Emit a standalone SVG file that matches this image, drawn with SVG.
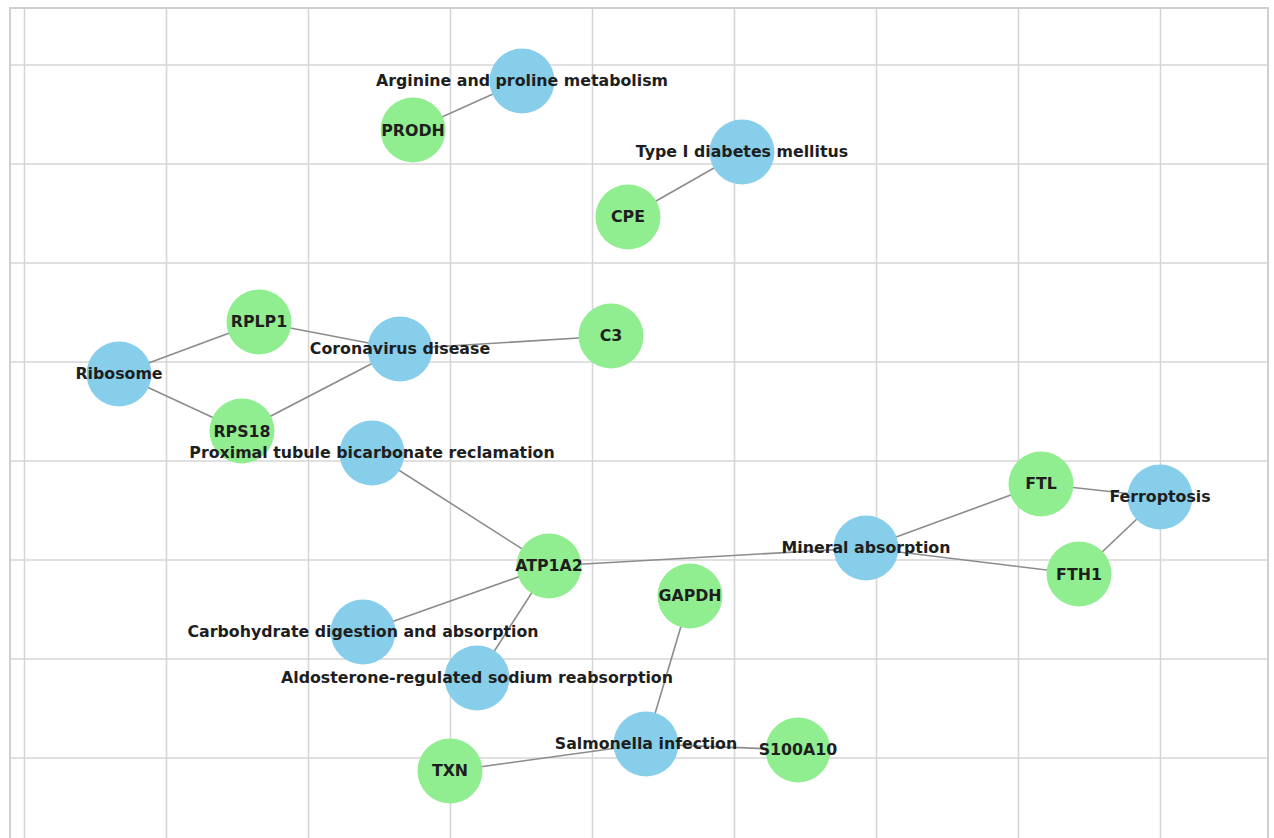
<svg xmlns="http://www.w3.org/2000/svg" width="1274" height="838" viewBox="0 0 1274 838">
<style>
.grid line{stroke:#d6d6d6;stroke-width:1.6}
.frame{fill:none;stroke:#d0d0d0;stroke-width:2}
.edges line{stroke:#8c8c8c;stroke-width:1.6}
.p{fill:#87CEEB}
.g{fill:#90EE90}
text{font-family:"DejaVu Sans",sans-serif;font-weight:bold;font-size:15.8px;fill:#1e1e1e;text-anchor:middle}
</style>
<rect width="1274" height="838" fill="#ffffff"/>
<g class="grid">
<line x1="24.5" y1="8" x2="24.5" y2="838"/>
<line x1="166.5" y1="8" x2="166.5" y2="838"/>
<line x1="308.5" y1="8" x2="308.5" y2="838"/>
<line x1="450.5" y1="8" x2="450.5" y2="838"/>
<line x1="592.5" y1="8" x2="592.5" y2="838"/>
<line x1="734.5" y1="8" x2="734.5" y2="838"/>
<line x1="876.5" y1="8" x2="876.5" y2="838"/>
<line x1="1018.5" y1="8" x2="1018.5" y2="838"/>
<line x1="1160.5" y1="8" x2="1160.5" y2="838"/>
<line x1="10" y1="65" x2="1268" y2="65"/>
<line x1="10" y1="164" x2="1268" y2="164"/>
<line x1="10" y1="263" x2="1268" y2="263"/>
<line x1="10" y1="362" x2="1268" y2="362"/>
<line x1="10" y1="461" x2="1268" y2="461"/>
<line x1="10" y1="560" x2="1268" y2="560"/>
<line x1="10" y1="659" x2="1268" y2="659"/>
<line x1="10" y1="758" x2="1268" y2="758"/>
</g>
<path class="frame" d="M10,840 V8 H1268 V840"/>
<g class="edges">
<line x1="413" y1="130" x2="522" y2="81"/>
<line x1="628" y1="217" x2="742" y2="152"/>
<line x1="119" y1="374" x2="259" y2="322"/>
<line x1="119" y1="374" x2="242" y2="431"/>
<line x1="259" y1="322" x2="400" y2="349"/>
<line x1="242" y1="431" x2="400" y2="349"/>
<line x1="400" y1="349" x2="611" y2="336"/>
<line x1="372" y1="453" x2="549" y2="566"/>
<line x1="549" y1="566" x2="866" y2="548"/>
<line x1="549" y1="566" x2="363" y2="632"/>
<line x1="549" y1="566" x2="477" y2="678"/>
<line x1="866" y1="548" x2="1041" y2="484"/>
<line x1="866" y1="548" x2="1079" y2="574"/>
<line x1="1041" y1="484" x2="1160" y2="497"/>
<line x1="1079" y1="574" x2="1160" y2="497"/>
<line x1="690" y1="596" x2="646" y2="744"/>
<line x1="450" y1="771" x2="646" y2="744"/>
<line x1="646" y1="744" x2="798" y2="750"/>
</g>
<g id="arginine"><circle class="p" cx="522" cy="81" r="32.5"/></g>
<g id="prodh"><circle class="g" cx="413" cy="130" r="32.5"/></g>
<g id="t1d"><circle class="p" cx="742" cy="152" r="32.5"/></g>
<g id="cpe"><circle class="g" cx="628" cy="217" r="32.5"/></g>
<g id="rplp1"><circle class="g" cx="259" cy="322" r="32.5"/></g>
<g id="corona"><circle class="p" cx="400" cy="349" r="32.5"/></g>
<g id="ribosome"><circle class="p" cx="119" cy="374" r="32.5"/></g>
<g id="rps18"><circle class="g" cx="242" cy="431" r="32.5"/></g>
<g id="proximal"><circle class="p" cx="372" cy="453" r="32.5"/></g>
<g id="c3"><circle class="g" cx="611" cy="336" r="32.5"/></g>
<g id="atp1a2"><circle class="g" cx="549" cy="566" r="32.5"/></g>
<g id="carb"><circle class="p" cx="363" cy="632" r="32.5"/></g>
<g id="aldo"><circle class="p" cx="477" cy="678" r="32.5"/></g>
<g id="gapdh"><circle class="g" cx="690" cy="596" r="32.5"/></g>
<g id="salmonella"><circle class="p" cx="646" cy="744" r="32.5"/></g>
<g id="txn"><circle class="g" cx="450" cy="771" r="32.5"/></g>
<g id="s100a10"><circle class="g" cx="798" cy="750" r="32.5"/></g>
<g id="mineral"><circle class="p" cx="866" cy="548" r="32.5"/></g>
<g id="ftl"><circle class="g" cx="1041" cy="484" r="32.5"/></g>
<g id="ferroptosis"><circle class="p" cx="1160" cy="497" r="32.5"/></g>
<g id="fth1"><circle class="g" cx="1079" cy="574" r="32.5"/></g>
<g id="labels">
<text x="522" y="86">Arginine and proline metabolism</text>
<text x="413" y="136">PRODH</text>
<text x="742" y="157">Type I diabetes mellitus</text>
<text x="628" y="222">CPE</text>
<text x="259" y="327">RPLP1</text>
<text x="400" y="354">Coronavirus disease</text>
<text x="119" y="379">Ribosome</text>
<text x="242" y="437">RPS18</text>
<text x="372" y="458">Proximal tubule bicarbonate reclamation</text>
<text x="611" y="341">C3</text>
<text x="549" y="571">ATP1A2</text>
<text x="363" y="637">Carbohydrate digestion and absorption</text>
<text x="477" y="683">Aldosterone-regulated sodium reabsorption</text>
<text x="690" y="601">GAPDH</text>
<text x="646" y="749">Salmonella infection</text>
<text x="450" y="776">TXN</text>
<text x="798" y="755">S100A10</text>
<text x="866" y="553">Mineral absorption</text>
<text x="1041" y="489">FTL</text>
<text x="1160" y="502">Ferroptosis</text>
<text x="1079" y="580">FTH1</text>
</g>
</svg>
